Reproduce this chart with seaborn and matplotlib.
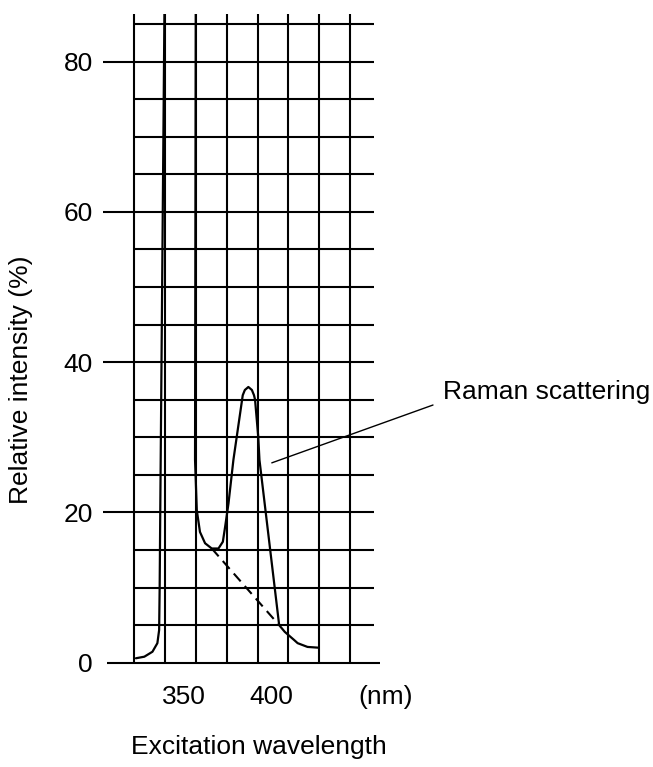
import numpy as np
import pandas as pd
import matplotlib
matplotlib.use("Agg")
import matplotlib.pyplot as plt
import seaborn as sns

# ---------------- data ----------------
# excitation spectrum trace (wavelength nm, relative intensity %)
wl = [322.9, 327.7, 332.3, 335.1, 336.1, 336.4, 336.7, 339.1, 348.0, 356.9,
      356.5, 357.5, 359.3, 362.2, 366.0, 369.8, 372.3, 373.6, 375.5, 378.3,
      383.6, 384.8, 386.8, 388.8, 390.0, 390.6, 392.4, 393.1, 404.3, 407.5, 412.9,
      414.8, 420.4, 426.5]
intensity = [0.59, 0.8, 1.46, 2.6, 4.35, 10.1, 19.0, 86.3, 130.0, 86.3,
             27.0, 20.3, 17.4, 15.9, 15.2, 15.2, 16.1, 18.1, 21.2, 27.0,
             35.6, 36.3, 36.7, 36.3, 35.6, 35.0, 30.1, 27.0, 5.0, 4.1, 3.0,
             2.6, 2.1, 2.0]
# baseline under the Raman band (dashed)
base_wl = [366.0, 404.3]
base_int = [15.2, 5.0]

# grid positions
grid_x = [322.0, 339.5, 357.0, 374.5, 392.0, 409.5, 427.0, 444.5]
grid_y = [5, 10, 15, 25, 30, 35, 45, 50, 55, 65, 70, 75, 85]
major_y = [20, 40, 60, 80]
ytick_vals = [0, 20, 40, 60, 80]
xtick_vals = [350, 400, 465.0]
xtick_labels = ["350", "400", "(nm)"]

# annotation
ann_line_x = [400.1, 491.7]
ann_line_y = [26.6, 34.3]
ann_text = "Raman scattering"
ann_pos = (497.4, 36.0)

# ---------------- figure ----------------
sns.set_style("white")
plt.rcParams["font.family"] = ["Liberation Sans", "DejaVu Sans"]
plt.rcParams["text.color"] = "black"
plt.rcParams["xtick.color"] = "black"
plt.rcParams["ytick.color"] = "black"
plt.rcParams["axes.labelcolor"] = "black"

FS = 19
W, H = 653, 767
fig = plt.figure(figsize=(W / 100, H / 100), dpi=100)
left_px, right_px, top_px, bot_px = 100, 653, 13.6, 662.7
ax = fig.add_axes([left_px / W, 1 - bot_px / H, (right_px - left_px) / W, (bot_px - top_px) / H])
ax.set_xlim(302.5, 616.7)
ax.set_ylim(0, 86.4)
for s in ax.spines.values():
    s.set_visible(False)

lw = 1.5
ax.vlines(grid_x, 0, 86.4, color="black", lw=lw, clip_on=False)
ax.hlines(grid_y, grid_x[0], 458.1, color="black", lw=lw)
ax.hlines(major_y, 304.2, 458.1, color="black", lw=lw)
ax.hlines([0], 306.5, 461.5, color="black", lw=lw, clip_on=False)

df = pd.DataFrame({"wl": wl, "int": intensity})
sns.lineplot(data=df, x="wl", y="int", sort=False, estimator=None, ax=ax,
             color="black", lw=1.6)
dfb = pd.DataFrame({"wl": base_wl, "int": base_int})
sns.lineplot(data=dfb, x="wl", y="int", sort=False, estimator=None, ax=ax,
             color="black", lw=1.5, linestyle=(0, (5, 3)))

ax.plot(ann_line_x, ann_line_y, color="black", lw=1.0)
ax.text(ann_pos[0], ann_pos[1], ann_text, fontsize=FS, ha="left", va="center")

ax.set_yticks(ytick_vals)
ax.set_yticklabels([str(v) for v in ytick_vals])
ax.set_xticks(xtick_vals)
ax.set_xticklabels(xtick_labels)
ax.set_xticks([350], minor=True)
ax.tick_params(axis="both", which="major", length=0, labelsize=FS)
ax.tick_params(axis="y", pad=5)
ax.tick_params(axis="x", pad=16)
ax.tick_params(axis="x", which="minor", length=4, width=1, direction="out", bottom=True)

ax.set_xlabel("Excitation wavelength", fontsize=FS)
ax.set_ylabel("Relative intensity (%)", fontsize=FS)
ax.xaxis.set_label_coords((259 - left_px) / (right_px - left_px), -(735 - bot_px) / (bot_px - top_px))
ax.yaxis.set_label_coords(-(left_px - 33) / (right_px - left_px), (bot_px - 380) / (bot_px - top_px))
ax.grid(False)

fig.savefig("out.png", dpi=100)
